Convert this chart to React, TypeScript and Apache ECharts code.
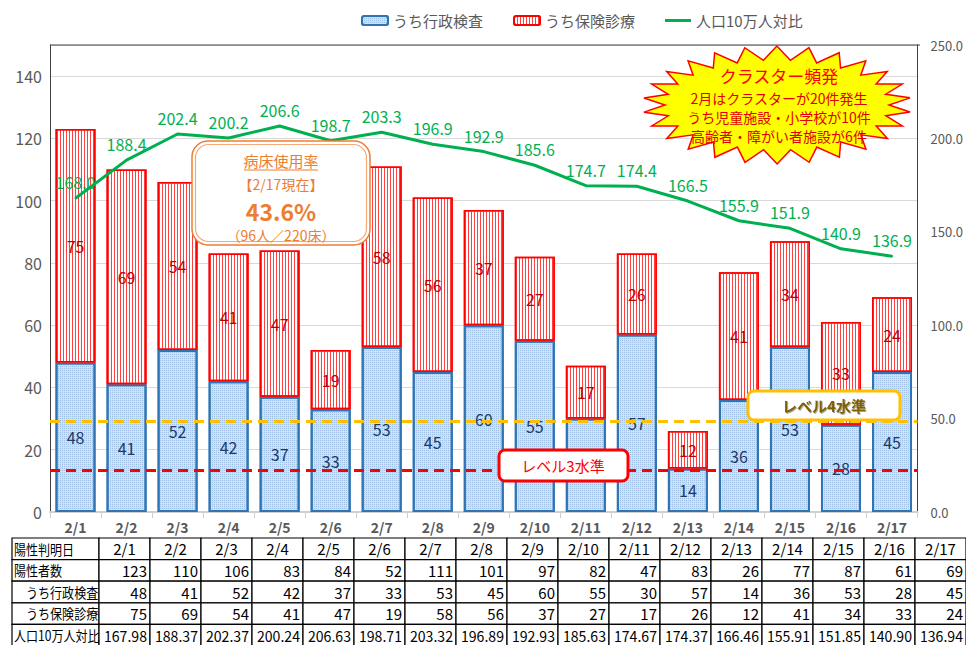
import React, { useEffect, useRef } from 'react';
import * as echarts from 'echarts';

const dates = ['2/1', '2/2', '2/3', '2/4', '2/5', '2/6', '2/7', '2/8', '2/9', '2/10', '2/11', '2/12', '2/13', '2/14', '2/15', '2/16', '2/17'];
const gyousei = [48, 41, 52, 42, 37, 33, 53, 45, 60, 55, 30, 57, 14, 36, 53, 28, 45];
const hoken = [75, 69, 54, 41, 47, 19, 58, 56, 37, 27, 17, 26, 12, 41, 34, 33, 24];
const totals = [123, 110, 106, 83, 84, 52, 111, 101, 97, 82, 47, 83, 26, 77, 87, 61, 69];
const rate = [167.98, 188.37, 202.37, 200.24, 206.63, 198.71, 203.32, 196.89, 192.93, 185.63, 174.67, 174.37, 166.46, 155.91, 151.85, 140.9, 136.94];
const leftAxis = { min: 0, max: 150, interval: 20 };
const rightAxis = { min: 0, max: 250, interval: 50 };
const level4 = 29.3;
const level3 = 13.3;
// bar label hidden behind the レベル3水準 box in the reference
const hiddenBlueLabels = [10];
const tableRowLabels = ['陽性判明日', '陽性者数', '\u3000うち行政検査', '\u3000うち保険診療', '人口10万人対比'];
const clusterTexts = ['クラスター頻発', '2月はクラスターが20件発生', 'うち児童施設・小学校が10件', '高齢者・障がい者施設が6件'];
const bedTexts = ['病床使用率', '【2/17現在】', '43.6%', '（96人／220床）'];

const FONT = "'Noto Sans CJK JP', 'Noto Sans', sans-serif";

const round1 = (v: number) => (Math.round(v * 10 + 1e-6) / 10).toFixed(1);

function starPoints(cx: number, cy: number, rxo: number, ryo: number, rxi: number, ryi: number, n: number) {
  const pts: number[][] = [];
  for (let i = 0; i < n * 2; i++) {
    const a = (Math.PI * i) / n + 0.12;
    const o = i % 2 === 0;
    pts.push([cx + Math.cos(a) * (o ? rxo : rxi), cy + Math.sin(a) * (o ? ryo : ryi)]);
  }
  return pts;
}

function buildTable() {
  const els: any[] = [];
  const x0 = 12;
  const labelW = 87;
  const colW = 51;
  const y0 = 538;
  const rowH = 21.6;
  const rows: string[][] = [
    dates,
    totals.map(String),
    gyousei.map(String),
    hoken.map(String),
    rate.map((v) => v.toFixed(2)),
  ];
  for (let r = 0; r < 5; r++) {
    const y = y0 + r * rowH;
    els.push({
      type: 'rect',
      shape: { x: x0, y, width: labelW, height: rowH },
      style: { fill: '#fff', stroke: '#000', lineWidth: 1.2 },
      z: 10,
    });
    els.push({
      type: 'text',
      x: x0 + 2,
      y: y + rowH / 2,
      scaleX: 0.86,
      style: { text: tableRowLabels[r], fontSize: 14, lineHeight: 16, fill: '#000', fontFamily: FONT, verticalAlign: 'middle', align: 'left' },
      z: 11,
    });
    for (let c = 0; c < 17; c++) {
      const x = x0 + labelW + c * colW;
      els.push({
        type: 'rect',
        shape: { x, y, width: colW, height: rowH },
        style: { fill: '#fff', stroke: '#000', lineWidth: 1.2 },
        z: 10,
      });
      els.push({
        type: 'text',
        x: r === 0 ? x + colW / 2 : x + colW - 3,
        y: y + rowH / 2,
        scaleX: r === 4 ? 0.94 : 1,
        style: {
          text: rows[r][c],
          fontSize: 15,
          lineHeight: 17,
          fill: '#000',
          fontFamily: FONT,
          verticalAlign: 'middle',
          align: r === 0 ? 'center' : 'right',
        },
        z: 11,
      });
    }
  }
  return els;
}

export default function App() {
  const ref = useRef<HTMLDivElement>(null);
  useEffect(() => {
    if (!ref.current) return;
    const chart = echarts.init(ref.current, undefined, { renderer: 'svg' });
    const star = starPoints(777, 105, 134, 59, 112, 45, 26);
    const clusterText = (i: number, y: number, size: number, fill: string) => ({
      type: 'text',
      x: 779,
      y,
      style: { text: clusterTexts[i], fontSize: size, lineHeight: size + 1, fill, align: 'center', verticalAlign: 'middle', fontFamily: FONT },
      z: 21,
    });
    const bedText = (i: number, y: number, size: number, bold: boolean) => ({
      type: 'text',
      x: 281,
      y,
      style: {
        text: bedTexts[i],
        fontSize: size,
        lineHeight: size + 2,
        fontWeight: bold ? 'bold' : 'normal',
        fill: '#ed7d31',
        align: 'center',
        verticalAlign: 'middle',
        fontFamily: FONT,
      },
      z: 21,
    });
    const option: any = {
      animation: false,
      backgroundColor: '#fff',
      textStyle: { fontFamily: FONT },
      legend: {
        top: 8,
        left: 356,
        itemWidth: 26,
        itemHeight: 9,
        itemGap: 30,
        textStyle: { fontSize: 15, color: '#595959', fontFamily: FONT },
        data: ['うち行政検査', 'うち保険診療', { name: '人口10万人対比', icon: 'path://M0,0H26V3H0Z' }],
      },
      grid: { left: 50, right: 46, top: 45, bottom: 133 },
      xAxis: {
        type: 'category',
        data: dates,
        axisLine: { lineStyle: { color: '#d0d0d0', width: 2 } },
        axisTick: { show: true, length: 6, lineStyle: { color: '#d0d0d0' } },
        axisLabel: { fontSize: 14, fontWeight: 'bold', color: '#595959', margin: 8 },
      },
      yAxis: [
        {
          type: 'value',
          min: leftAxis.min,
          max: leftAxis.max,
          interval: leftAxis.interval,
          axisLine: { show: true, lineStyle: { color: '#404040', width: 1 } },
          axisTick: { show: false },
          axisLabel: {
            fontSize: 16,
            color: '#595959',
            margin: 8,
            formatter: (v: number) => (v === leftAxis.max ? '' : String(v)),
          },
          splitLine: { lineStyle: { color: '#d9d9d9', width: 1 } },
        },
        {
          type: 'value',
          min: rightAxis.min,
          max: rightAxis.max,
          interval: rightAxis.interval,
          axisLine: { show: true, lineStyle: { color: '#404040', width: 1 } },
          axisTick: { show: false },
          axisLabel: { fontSize: 13, color: '#595959', margin: 13, formatter: (v: number) => v.toFixed(1) },
          splitLine: { show: false },
        },
      ],
      series: [
        {
          name: 'うち行政検査',
          type: 'bar',
          stack: 'total',
          data: gyousei.map((v, i) => (hiddenBlueLabels.includes(i) ? { value: v, label: { show: false } } : v)),
          barWidth: 40,
          itemStyle: {
            color: '#cfe1f3',
            borderColor: '#2e75b6',
            borderWidth: 2,
            decal: {
              symbol: 'rect',
              symbolSize: 1,
              symbolKeepAspect: false,
              color: 'rgba(120,165,215,0.55)',
              dashArrayX: [1, 1],
              dashArrayY: [1, 1],
              rotation: 0,
            },
          },
          label: {
            show: true,
            position: 'inside',
            fontSize: 16,
            color: '#1f3864',
            fontFamily: FONT,
          },
          markLine: {
            silent: true,
            symbol: 'none',
            label: { show: false },
            data: [
              { yAxis: level4, lineStyle: { color: '#ffc000', width: 3, type: [10, 6] } },
              { yAxis: level3, lineStyle: { color: '#ff0000', width: 3, type: [10, 6] } },
            ],
            z: 5,
          },
        },
        {
          name: 'うち保険診療',
          type: 'bar',
          stack: 'total',
          data: hoken,
          barWidth: 40,
          itemStyle: {
            color: '#ffffff',
            borderColor: '#ff0000',
            borderWidth: 1.5,
            decal: {
              symbol: 'rect',
              symbolSize: 1,
              symbolKeepAspect: false,
              color: '#ff4040',
              dashArrayX: [1, 2],
              dashArrayY: [3, 0],
              rotation: 0,
            },
          },
          label: {
            show: true,
            position: 'inside',
            fontSize: 16,
            color: '#c00000',
            fontFamily: FONT,
          },
        },
        {
          name: '人口10万人対比',
          type: 'line',
          yAxisIndex: 1,
          data: rate,
          symbol: 'circle',
          symbolSize: 2,
          showSymbol: true,
          showAllSymbol: true,
          lineStyle: { color: '#00b050', width: 3 },
          itemStyle: { color: '#00b050' },
          z: 6,
          label: {
            show: true,
            position: 'top',
            distance: 7,
            fontSize: 16,
            color: '#00b050',
            fontFamily: FONT,
            formatter: (p: any) => round1(Number(p.value)),
          },
        },
      ],
      graphic: [
        { type: 'line', shape: { x1: 50, y1: 45, x2: 920, y2: 45 }, style: { stroke: '#404040', lineWidth: 1 }, z: 3 },
        // cluster starburst
        {
          type: 'polygon',
          shape: { points: star },
          style: { fill: '#ffff00', stroke: '#ff0000', lineWidth: 1.5 },
          z: 20,
        },
        clusterText(0, 75, 17, '#ff0000'),
        clusterText(1, 98, 14, '#e00000'),
        clusterText(2, 117, 14, '#e00000'),
        clusterText(3, 136, 14, '#e00000'),
        // bed usage callout
        {
          type: 'rect',
          shape: { x: 192, y: 141, width: 178, height: 104, r: 16 },
          style: { fill: '#fff', stroke: '#ed7d31', lineWidth: 1.5 },
          z: 20,
        },
        {
          type: 'rect',
          shape: { x: 195.5, y: 144.5, width: 171, height: 97, r: 13 },
          style: { fill: 'none', stroke: '#f4a77a', lineWidth: 1.2 },
          z: 20,
        },
        bedText(0, 160, 15, false),
        { type: 'line', shape: { x1: 244, y1: 170, x2: 318, y2: 170 }, style: { stroke: '#ed7d31', lineWidth: 1 }, z: 21 },
        bedText(1, 184, 14, false),
        bedText(2, 211, 23, true),
        bedText(3, 235, 14, false),
        // level 4 box
        {
          type: 'rect',
          shape: { x: 748, y: 391, width: 152, height: 29, r: 6 },
          style: { fill: '#fff', stroke: '#ffc000', lineWidth: 3 },
          z: 20,
        },
        {
          type: 'text',
          x: 824,
          y: 405.5,
          style: {
            text: 'レベル4水準',
            fontSize: 15,
            fontWeight: 'bold',
            fill: '#7f6000',
            align: 'center',
            verticalAlign: 'middle',
            fontFamily: FONT,
            textShadowColor: 'rgba(0,0,0,0.35)',
            textShadowBlur: 1,
            textShadowOffsetX: 1,
            textShadowOffsetY: 1,
          },
          z: 21,
        },
        // level 3 box
        {
          type: 'rect',
          shape: { x: 499, y: 450, width: 129, height: 31, r: 6 },
          style: { fill: '#fff', stroke: '#ff0000', lineWidth: 3 },
          z: 20,
        },
        {
          type: 'text',
          x: 563,
          y: 465.5,
          style: { text: 'レベル3水準', fontSize: 15, fill: '#ff0000', align: 'center', verticalAlign: 'middle', fontFamily: FONT },
          z: 21,
        },
        ...buildTable(),
      ],
    };
    chart.setOption(option);
    return () => chart.dispose();
  }, []);
  return <div ref={ref} style={{ position: 'absolute', left: 0, top: 0, width: 966, height: 645 }} />;
}
